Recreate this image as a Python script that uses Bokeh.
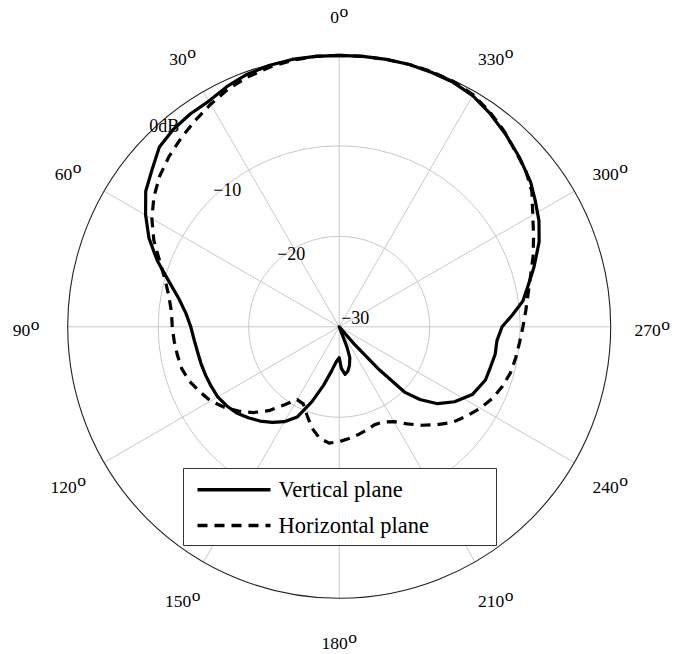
import numpy as np
from bokeh.plotting import figure
from bokeh.models import ColumnDataSource, Range1d
from bokeh.core.properties import value
from bokeh.embed import file_html
from bokeh.resources import INLINE

# ---------------- data ----------------
series_names = ["Vertical plane", "Horizontal plane"]

vertical_angle = [0, 5, 10, 15, 20, 25, 30, 35, 40, 45, 50, 55, 60, 65, 70, 75, 80, 85,
                  90, 95, 100, 105, 110, 115, 120, 125, 130, 135, 140, 145, 150, 155,
                  160, 165, 170, 175, 180, 183, 187, 191, 195, 199, 201, 203, 212, 219,
                  221, 223, 225, 228, 232, 237, 243, 250, 255, 260, 265, 270, 274, 278,
                  282, 287, 293, 298, 303, 307, 313, 319, 325, 330, 335, 340, 345, 350, 355]
vertical_db = [0.0, 0.0, 0.0, -0.1, -0.3, -0.7, -1.2, -1.3, -1.5, -1.9, -3.0, -3.9, -5.3,
               -6.8, -8.6, -10.5, -12.0, -13.0, -13.6, -13.9, -14.1, -14.2, -14.3, -14.4,
               -14.5, -14.8, -15.2, -15.8, -16.4, -17.1, -17.9, -19.0, -21.2, -23.3,
               -25.0, -26.1, -26.6, -25.4, -24.7, -25.0, -25.6, -26.4, -27.6, -30.0,
               -30.0, -30.0, -27.5, -23.5, -19.8, -18.0, -16.2, -14.8, -13.5, -12.8,
               -12.7, -12.5, -12.5, -12.0, -10.8, -9.5, -8.7, -7.5, -6.0, -5.0, -4.2,
               -3.5, -2.7, -1.9, -1.1, -0.5, -0.2, -0.1, 0.0, 0.0, 0.0]

horizontal_angle = [0, 5, 10, 15, 20, 25, 30, 35, 40, 45, 50, 55, 60, 65, 70, 75, 80, 85,
                    90, 95, 100, 105, 110, 115, 120, 125, 130, 135, 140, 145, 150, 155,
                    160, 165, 170, 175, 180, 185, 190, 195, 200, 205, 210, 215, 220, 225,
                    230, 235, 240, 245, 250, 255, 260, 265, 270, 275, 280, 285, 290, 295,
                    300, 305, 310, 315, 320, 325, 330, 335, 340, 345, 350, 355]
horizontal_db = [0.0, 0.0, -0.1, -0.3, -0.6, -1.0, -1.6, -2.2, -2.8, -3.4, -4.1, -5.0, -6.1,
                 -7.4, -8.9, -10.1, -10.9, -11.4, -11.55, -11.7, -11.85, -12.0, -12.4,
                 -13.0, -13.6, -14.5, -15.5, -16.6, -17.9, -19.5, -20.7, -20.6, -19.6,
                 -18.4, -17.5, -17.1, -17.3, -17.6, -17.9, -18.2, -18.5, -18.4, -17.9,
                 -16.9, -15.8, -14.7, -13.6, -12.8, -12.0, -11.3, -10.8, -10.4, -10.2,
                 -10.0, -9.7, -9.3, -8.8, -8.1, -7.2, -6.3, -5.3, -4.0, -3.1, -2.5, -1.7,
                 -1.0, -0.4, -0.1, 0.0, 0.0, 0.0, 0.0]

angle_ticks = [0, 30, 60, 90, 120, 150, 180, 210, 240, 270, 300, 330]
angle_tick_labels = ["0", "30", "60", "90", "120", "150", "180", "210", "240", "270", "300", "330"]
ring_db = [0, -10, -20, -30]
ring_labels = ["0dB", "\u221210", "\u221220", "\u221230"]
DB_MIN, DB_MAX = -30, 0

# ---------------- layout ----------------
W, H = 682, 654
CX_PAGE, CY_PAGE = 338.7, 326.3
R_OUTER_PX = 271.5
S = R_OUTER_PX / (DB_MAX - DB_MIN)      # px per dB
FONT = value("Liberation Serif")
GRID_COLOR = "#c8c8c8"


def polar_xy(theta_deg, db):
    t = np.radians(np.asarray(theta_deg, dtype=float))
    r = np.clip(np.asarray(db, dtype=float) - DB_MIN, 0, None)
    return -r * np.sin(t), r * np.cos(t)


def page_to_data(px, py):
    return (px - CX_PAGE) / S, (CY_PAGE - py) / S


p = figure(width=W, height=H, output_backend="svg", toolbar_location=None,
           x_range=Range1d(-CX_PAGE / S, (W - CX_PAGE) / S),
           y_range=Range1d((CY_PAGE - H) / S, CY_PAGE / S),
           x_axis_location=None, y_axis_location=None, min_border=0,
           background_fill_color="white", border_fill_color="white")
p.grid.visible = False
p.outline_line_color = None

R_MAX = DB_MAX - DB_MIN

# spokes
sx, sy = polar_xy(angle_ticks, [DB_MAX] * len(angle_ticks))
p.segment(x0=[0] * len(sx), y0=[0] * len(sy), x1=sx, y1=sy,
          line_color=GRID_COLOR, line_width=1)

# inner rings
inner = [d for d in ring_db if DB_MIN < d < DB_MAX]
p.circle(x=[0] * len(inner), y=[0] * len(inner), radius=[d - DB_MIN for d in inner],
         fill_color=None, line_color=GRID_COLOR, line_width=1)
# outer ring
p.circle(x=[0], y=[0], radius=[R_MAX], fill_color=None, line_color="#222222", line_width=1.1)

# curves
vx, vy = polar_xy(vertical_angle + [vertical_angle[0]], vertical_db + [vertical_db[0]])
hx, hy = polar_xy(horizontal_angle + [horizontal_angle[0]], horizontal_db + [horizontal_db[0]])
p.line(hx, hy, line_color="black", line_width=3.2, line_dash="10 7", line_join="round")
p.line(vx, vy, line_color="black", line_width=3.2, line_join="round")

# ring labels along the upper-left diagonal
rl_x, rl_y = polar_xy([45] * len(ring_db), ring_db)
p.text(x=rl_x + 2 / S, y=rl_y + 9 / S, text=ring_labels, text_font=FONT,
       text_font_size="18px", text_align="left", text_baseline="middle", text_color="black")

# angle labels
R_LAB_PX = 313.0
DIGIT_W = 8.75
lx, ly, num_off, o_off = [], [], [], []
for a, lab in zip(angle_ticks, angle_tick_labels):
    t = np.radians(a)
    lx.append(-R_LAB_PX * np.sin(t) / S)
    ly.append(R_LAB_PX * np.cos(t) / S)
    wn = DIGIT_W * len(lab)
    total = wn + 0.5 + DIGIT_W
    num_off.append(-total / 2)
    o_off.append(-total / 2 + wn + 0.5)
src_lab = ColumnDataSource(dict(x=lx, y=ly, text=angle_tick_labels, xo=num_off,
                                xo2=o_off, o=["o"] * len(lx)))
p.text(x="x", y="y", text="text", x_offset="xo", y_offset=4, source=src_lab,
       text_font=FONT, text_font_size="17.5px", text_align="left", text_baseline="middle",
       text_color="black")
p.text(x="x", y="y", text="o", x_offset="xo2", y_offset=-3.3, source=src_lab,
       text_font=FONT, text_font_size="17.5px", text_align="left", text_baseline="middle",
       text_color="black")

# legend (drawn by hand to match the boxed legend)
bl, bt = page_to_data(183, 468)
br, bb = page_to_data(496, 545)
p.quad(left=[bl], right=[br], top=[bt], bottom=[bb], fill_color="white",
       line_color="#333333", line_width=1)
gx0, gy1 = page_to_data(197, 489.3)
gx1, gy2 = page_to_data(270, 525.0)
p.line([gx0, gx1], [gy1, gy1], line_color="black", line_width=3.4)
p.line([gx0, gx1], [gy2, gy2], line_color="black", line_width=3.4, line_dash="10 7")
tx, _ = page_to_data(278, 0)
p.text(x=[tx, tx], y=[gy1, gy2], text=series_names, text_font=FONT,
       text_font_size="22.5px", text_align="left", text_baseline="middle", text_color="black")

open("out.html", "w").write(file_html(p, INLINE))
